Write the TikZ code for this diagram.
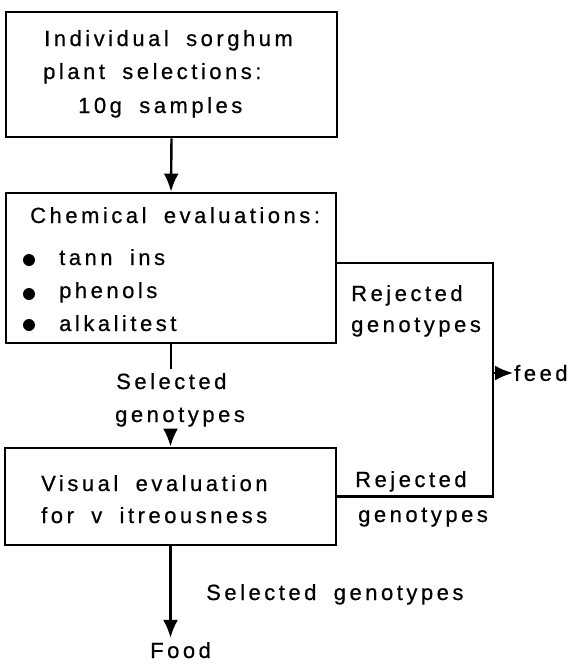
\documentclass[tikz,border=0pt]{standalone}
\usepackage{fontspec}
\setmainfont{Liberation Sans}[LetterSpace=16,WordSpace=1.8,FakeBold=0.6]
\usetikzlibrary{arrows.meta}

\begin{document}
\begin{tikzpicture}[x=1pt,y=-1pt,line width=2.4pt,
  box/.style={draw,line width=2.8pt,inner sep=0pt},
  txt/.style={anchor=base west,inner sep=0pt,font=\fontsize{22}{30}\selectfont},
  arr/.style={-{Latex[length=18pt,width=15pt]}}]
\useasboundingbox (0,0) rectangle (569,664);
\node[box,minimum width=331,minimum height=125] (plant) at (171.5,74.5) {};
\node[box,minimum width=330,minimum height=150] (chem) at (171,268) {};
\node[box,minimum width=331,minimum height=97] (visual) at (170.5,496.5) {};
\node[txt] (plantA) at (43,46) {Individual sorghum};
\node[txt] (plantB) at (42,79) {plant selections:};
\node[txt] (plantC) at (77,113) {10g samples};
\node[txt] (chemA) at (29,223) {Chemical evaluations:};
\node[txt] (tannin) at (58,265) {tann ins};
\node[txt] (phenol) at (58,298) {phenols};
\node[txt] (alkali) at (58,331) {alkalitest};
\foreach \y in {260,294,325}
  \fill (29,\y) circle (6);
\node[txt] (visA) at (40,491) {Visual evaluation};
\node[txt] (visB) at (40,523) {for v itreousness};
\node[txt] (selA) at (115,389) {Selected};
\node[txt] (selB) at (114,422) {genotypes};
\node[txt] (rejA) at (350,301) {Rejected};
\node[txt] (rejB) at (350,332) {genotypes};
\node[txt] (rejC) at (354,487) {Rejected};
\node[txt] (rejD) at (357,522) {genotypes};
\node[txt] (selC) at (205,600) {Selected genotypes};
\node[txt] (food) at (149,658) {Food};
\node[txt,anchor=west] (feed) at (513,373) {feed};
\coordinate (fj) at (493,373);
\draw[arr] (plant.south) -- (chem.north);
\draw (chem.south) -- ([yshift=3pt]chem.south |- selA.north);
\draw[arr] ([yshift=-2pt]selB.south -| visual.north) -- (visual.north);
\draw ([yshift=5pt]chem.east) -| (fj) |- (visual.east);
\draw[arr] (fj) -- (feed.west);
\draw[arr] (visual.south) -- ([yshift=3pt]visual.south |- food.north);
\end{tikzpicture}
\end{document}
